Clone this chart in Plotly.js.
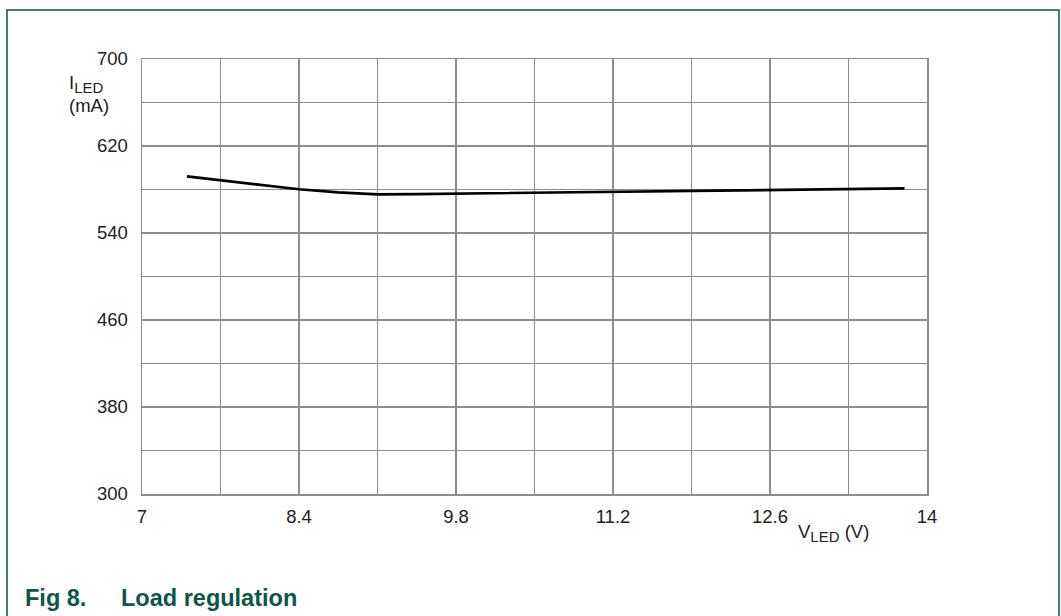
<!DOCTYPE html>
<html>
<head>
<meta charset="utf-8">
<script src="https://cdn.plot.ly/plotly-3.0.1.min.js"></script>
<style>
html,body{margin:0;padding:0;background:#fff;}
#chart{width:1061px;height:616px;}
</style>
</head>
<body>
<div id="chart"></div>
<script>
// Data
var vled = [7.4, 7.7, 8.0, 8.4, 8.75, 9.1, 9.45, 9.8, 10.5, 11.2, 11.9, 12.6, 13.3, 13.8];
var iled = [592, 588.5, 584.8, 580.2, 577.4, 575.6, 575.8, 576.2, 577, 578, 579, 579.6, 580.4, 581];

var xGrid = [7, 7.7, 8.4, 9.1, 9.8, 10.5, 11.2, 11.9, 12.6, 13.3, 14];
var xTickVals = [7, 8.4, 9.8, 11.2, 12.6, 14];
var xTickText = ['7', '8.4', '9.8', '11.2', '12.6', '14'];
var yGrid = [300, 340, 380, 420, 460, 500, 540, 580, 620, 660, 700];
var yTickVals = [300, 380, 460, 540, 620, 700];
var yTickText = ['300', '380', '460', '540', '620', '700'];

var W = 1061, H = 616;
var L = 142, R = 927, T = 59, B = 494;
function px(x){ return (x - L) / (R - L); }
function py(y){ return (B - y) / (B - T); }

var green = '#0b5646';
var gridCol = '#8c8c8c';
var font = 'Liberation Sans, Arial, sans-serif';
var fs = 18.5;

var trace = {
  x: vled, y: iled, type: 'scatter', mode: 'lines',
  line: {color: '#000', width: 2.7},
  hoverinfo: 'skip'
};

function axisBase(range, vals, text, grid, standoff){
  return {
    range: range, tickmode: 'array', tickvals: vals, ticktext: text,
    showgrid: true, gridcolor: gridCol, gridwidth: 1.5,
    minor: {tickmode: 'array', tickvals: grid, showgrid: true, gridcolor: gridCol, gridwidth: 1.5, ticks: ''},
    showline: true, linecolor: gridCol, linewidth: 1.5, mirror: true,
    zeroline: false, ticks: '', ticklabelstandoff: standoff,
    tickfont: {family: font, size: fs, color: '#222'}
  };
}

var sub = function(s){ return '<sub><span style="font-size:15px">' + s + '</span></sub>'; };

var layout = {
  width: W, height: H,
  margin: {l: L, r: W - R, t: T, b: H - B, pad: 0},
  paper_bgcolor: '#fff', plot_bgcolor: '#fff',
  showlegend: false,
  font: {family: font, size: fs, color: '#222'},
  xaxis: axisBase([7, 14], xTickVals, xTickText, xGrid, 5),
  yaxis: axisBase([300, 700], yTickVals, yTickText, yGrid, 9),
  annotations: [
    {text: 'I' + sub('LED'), xref: 'paper', yref: 'paper', x: px(67), y: py(84),
     xanchor: 'left', yanchor: 'middle', showarrow: false,
     font: {family: font, size: fs, color: '#222'}},
    {text: '(mA)', xref: 'paper', yref: 'paper', x: px(67), y: py(106),
     xanchor: 'left', yanchor: 'middle', showarrow: false,
     font: {family: font, size: fs, color: '#222'}},
    {text: 'V' + sub('LED') + ' (V)', xref: 'paper', yref: 'paper', x: px(796), y: py(533),
     xanchor: 'left', yanchor: 'middle', showarrow: false,
     font: {family: font, size: fs, color: '#222'}},
    {text: '<b>Fig 8.</b>', xref: 'paper', yref: 'paper', x: px(23), y: py(598),
     xanchor: 'left', yanchor: 'middle', showarrow: false,
     font: {family: font, size: 23.5, color: green}},
    {text: '<b>Load regulation</b>', xref: 'paper', yref: 'paper', x: px(119), y: py(598),
     xanchor: 'left', yanchor: 'middle', showarrow: false,
     font: {family: font, size: 23.5, color: green}}
  ],
  shapes: [
    {type: 'rect', xref: 'paper', yref: 'paper',
     x0: px(7), x1: px(1059), y0: py(630), y1: py(10),
     line: {color: green, width: 1.5}, fillcolor: 'rgba(0,0,0,0)', layer: 'below'}
  ]
};

Plotly.newPlot('chart', [trace], layout, {displayModeBar: false, staticPlot: true});
</script>
</body>
</html>
